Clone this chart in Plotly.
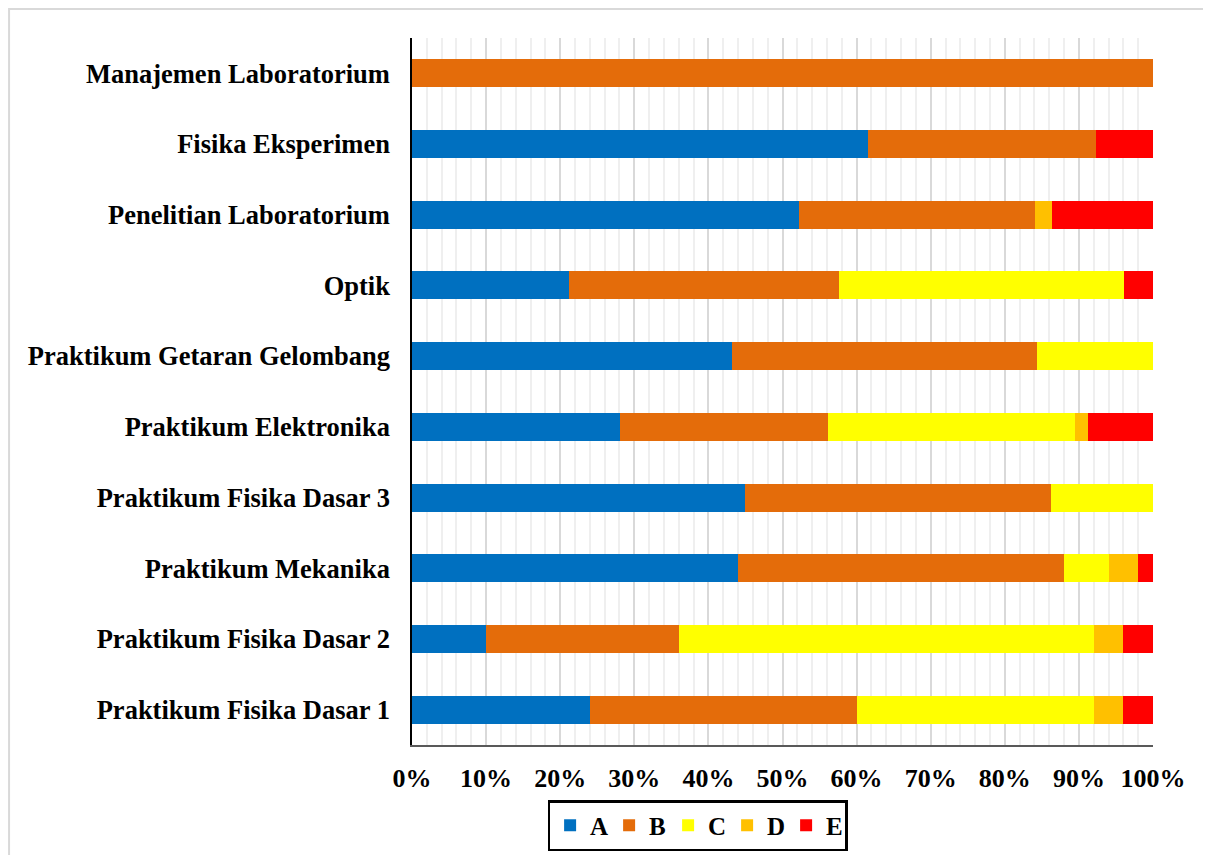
import plotly.graph_objects as go

categories = [
    "Praktikum Fisika Dasar 1",
    "Praktikum Fisika Dasar 2",
    "Praktikum Mekanika",
    "Praktikum Fisika Dasar 3",
    "Praktikum Elektronika",
    "Praktikum Getaran Gelombang",
    "Optik",
    "Penelitian Laboratorium",
    "Fisika Eksperimen",
    "Manajemen Laboratorium",
]
series_names = ["A", "B", "C", "D", "E"]
val_A = [24, 10, 44, 45.0, 28.07, 43.14, 21.15, 52.27, 61.54, 0]
val_B = [36, 26, 44, 41.3, 28.07, 41.18, 36.54, 31.82, 30.77, 100]
val_C = [32, 56, 6, 13.7, 33.33, 15.68, 38.46, 0, 0, 0]
val_D = [4, 4, 4, 0, 1.75, 0, 0, 2.27, 0, 0]
val_E = [4, 4, 2, 0, 8.78, 0, 3.85, 13.64, 7.69, 0]
tick_vals = [0, 10, 20, 30, 40, 50, 60, 70, 80, 90, 100]
tick_text = ["0%", "10%", "20%", "30%", "40%", "50%", "60%", "70%", "80%", "90%", "100%"]

colors = ["#0070C0", "#E46C0A", "#FFFF00", "#FFC000", "#FF0000"]
values = [val_A, val_B, val_C, val_D, val_E]

FONT = "Liberation Serif"
W, H = 1195, 847
L, T = 404, 30
PW, PH = 741.5, 707
R = W - L - PW
B = H - T - PH

def px_x(x):
    return (x - L) / PW

def px_y(y):
    return (T + PH - y) / PH

fig = go.Figure()
for name, vals, col in zip(series_names, values, colors):
    fig.add_trace(go.Bar(
        y=categories, x=vals, name=name, orientation="h",
        marker=dict(color=col, line=dict(width=0)),
    ))

fig.update_layout(
    width=W, height=H,
    margin=dict(l=L, r=R, t=T, b=B, autoexpand=False),
    barmode="stack",
    bargap=0.604,
    paper_bgcolor="white",
    plot_bgcolor="white",
    xaxis=dict(
        range=[0, 100], tickvals=tick_vals, ticktext=tick_text,
        showgrid=True, gridcolor="#D9D9D9", gridwidth=1.5,
        minor=dict(dtick=2, showgrid=True, gridcolor="#EFEFEF", gridwidth=1.5),
        showline=True, linecolor="#595959", linewidth=1.5,
        zeroline=False, ticks="", automargin=False,
        tickfont=dict(family=FONT, size=26, color="black", weight="bold"),
        ticklabelstandoff=9,
        fixedrange=True,
    ),
    yaxis=dict(
        showgrid=False, showline=True, linecolor="black", linewidth=1.5,
        ticks="", automargin=False,
        tickfont=dict(family=FONT, size=26.5, color="black", weight="bold"),
        ticklabelstandoff=15,
        range=[-0.5, 9.5],
    ),
    legend=dict(
        orientation="h", xanchor="center", yanchor="top",
        x=px_x(697.8 - 8), y=px_y(800 - 8),
        bordercolor="black", borderwidth=2.5, bgcolor="white",
        font=dict(family=FONT, size=25, color="black", weight="bold"),
        itemwidth=30, entrywidth=14, traceorder="normal",
    ),
    shapes=[dict(
        type="rect", xref="paper", yref="paper",
        x0=px_x(0.8), x1=px_x(W + 20), y0=px_y(H + 20), y1=px_y(1),
        line=dict(color="#D9D9D9", width=2), fillcolor="rgba(0,0,0,0)", layer="below",
    )],
)

fig.write_html("out.html")
